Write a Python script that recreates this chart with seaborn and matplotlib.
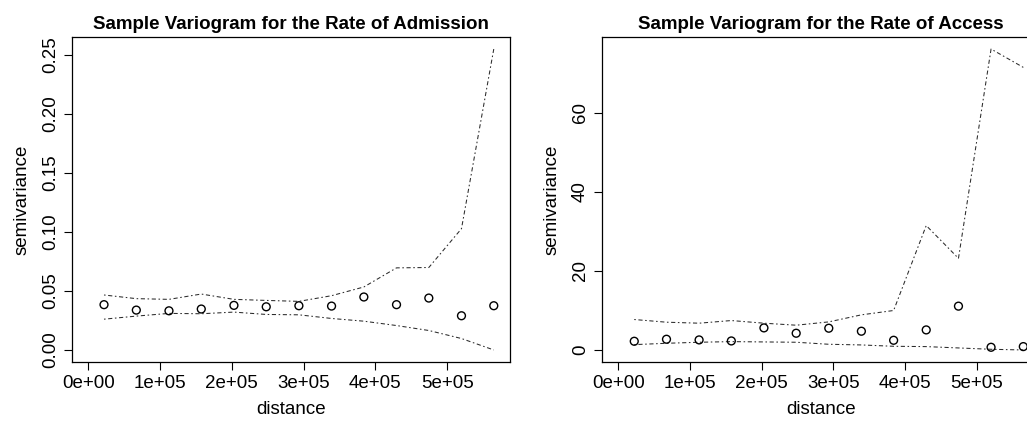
import numpy as np
import pandas as pd
import matplotlib
matplotlib.use("Agg")
import matplotlib.pyplot as plt
import seaborn as sns
from matplotlib.ticker import FixedLocator, FuncFormatter

# ---- data ----
distance = [22000, 67000, 112500, 157500, 203000, 248000, 293500,
            339000, 384000, 429500, 474500, 520000, 565000]

adm_gamma = [0.0384, 0.0338, 0.0332, 0.0347, 0.0378, 0.0366, 0.0375,
             0.0372, 0.0449, 0.0384, 0.0440, 0.0290, 0.0375]
adm_upper = [0.0466, 0.0435, 0.0429, 0.0474, 0.0429, 0.0420, 0.0412,
             0.0460, 0.0534, 0.0696, 0.0699, 0.1028, 0.2551]
adm_lower = [0.0261, 0.0287, 0.0310, 0.0307, 0.0321, 0.0301, 0.0298,
             0.0267, 0.0244, 0.0207, 0.0165, 0.0097, 0.0000]

acc_gamma = [2.20, 2.71, 2.54, 2.28, 5.58, 4.23, 5.50,
             4.74, 2.45, 5.07, 11.08, 0.68, 0.85]
acc_upper = [7.70, 7.02, 6.77, 7.44, 6.77, 6.26, 7.10,
             8.88, 9.98, 31.46, 23.17, 76.10, 71.46]
acc_lower = [1.35, 1.69, 1.95, 2.11, 2.03, 1.95, 1.44,
             1.27, 0.93, 0.85, 0.51, 0.17, 0.00]

titles = ["Sample Variogram for the Rate of Admission",
          "Sample Variogram for the Rate of Access"]
x_ticks = [0, 100000, 200000, 300000, 400000, 500000]
adm_yticks = [0.00, 0.05, 0.10, 0.15, 0.20, 0.25]
acc_yticks = [0, 20, 40, 60]
x_label = "distance"
y_label = "semivariance"

# ---- style ----
sns.set_style("white")
plt.rcParams['font.family'] = ['Liberation Sans', 'DejaVu Sans']
plt.rcParams['text.color'] = 'black'
plt.rcParams['axes.labelcolor'] = 'black'
plt.rcParams['xtick.color'] = 'black'
plt.rcParams['ytick.color'] = 'black'

W, H = 1027, 421
fig = plt.figure(figsize=(W / 100, H / 100), dpi=100)

def px_axes(x0, x1, y0, y1):
    return fig.add_axes([x0 / W, (H - y1) / H, (x1 - x0) / W, (y1 - y0) / H])

ax1 = px_axes(72, 510, 37, 362)
ax2 = px_axes(602.3, 1039.5, 37, 362)

env_style = dict(color="#2a2a2a", linewidth=0.75, linestyle=(0, (1.5, 2.5, 4, 2.5)))

def draw(ax, gamma, upper, lower, title, yticks, yfmt):
    df = pd.DataFrame({"distance": distance, "gamma": gamma,
                       "upper": upper, "lower": lower})
    sns.lineplot(data=df, x="distance", y="upper", ax=ax, **env_style)
    sns.lineplot(data=df, x="distance", y="lower", ax=ax, **env_style)
    sns.scatterplot(data=df, x="distance", y="gamma", ax=ax, marker="o",
                    s=32, facecolor="none", edgecolor="black", linewidth=1.0,
                    zorder=3)
    xmax = max(distance)
    ax.set_xlim(-0.04 * xmax, 1.04 * xmax)
    ymin = min(min(lower), min(gamma))
    ymax = max(max(upper), max(gamma))
    r = ymax - ymin
    ax.set_ylim(ymin - 0.04 * r, ymax + 0.04 * r)
    ax.xaxis.set_major_locator(FixedLocator(x_ticks))
    ax.xaxis.set_major_formatter(FuncFormatter(lambda v, p: format(v, ".0e")))
    ax.yaxis.set_major_locator(FixedLocator(yticks))
    ax.yaxis.set_major_formatter(FuncFormatter(yfmt))
    ax.tick_params(axis="both", direction="out", length=5.5, width=0.8,
                   color="black", labelcolor="black", labelsize=13.5, pad=4,
                   bottom=True, left=True)
    for lab in ax.get_yticklabels():
        lab.set_rotation(90)
        lab.set_va("center")
    ax.set_xlabel(x_label, fontsize=13.5, labelpad=6, color="black")
    ax.set_ylabel(y_label, fontsize=13.5, labelpad=8, color="black")
    ax.set_title(title, fontsize=13.5, fontweight="bold", pad=6, color="black")
    for s in ax.spines.values():
        s.set_visible(True)
        s.set_color("black")
        s.set_linewidth(0.9)

draw(ax1, adm_gamma, adm_upper, adm_lower, titles[0], adm_yticks,
     lambda v, p: f"{v:.2f}")
draw(ax2, acc_gamma, acc_upper, acc_lower, titles[1], acc_yticks,
     lambda v, p: f"{v:.0f}")

fig.savefig("out.png", dpi=100)
